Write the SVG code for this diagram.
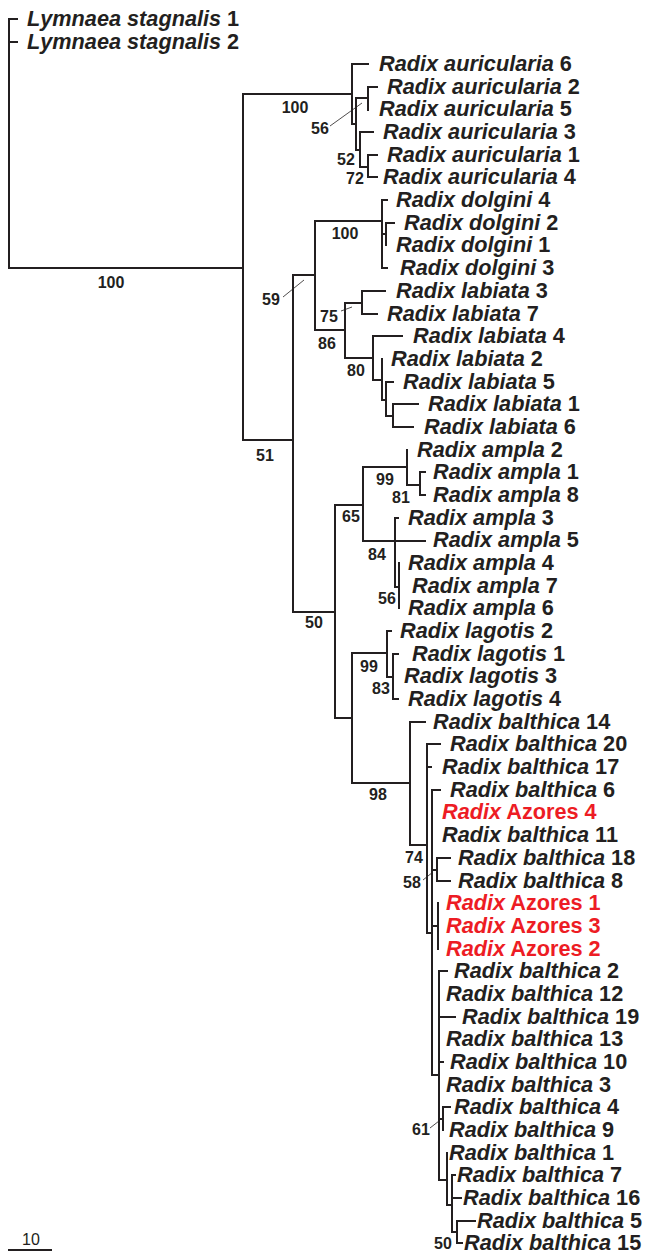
<svg xmlns="http://www.w3.org/2000/svg" width="646" height="1254" viewBox="0 0 646 1254">
<style>
.e{fill:none;stroke:#231f20;stroke-width:2;stroke-linecap:square}
.ld{fill:none;stroke:#231f20;stroke-width:0.8}
.t{font-family:"Liberation Sans",Arial,sans-serif;font-weight:bold;font-size:21.7px;fill:#231f20}
.r{fill:#ed1c24}
.i{font-style:italic}
.s{font-family:"Liberation Sans",Arial,sans-serif;font-weight:bold;font-size:16px;fill:#231f20;text-anchor:middle}
</style>
<rect width="646" height="1254" fill="#ffffff"/>
<g id="connectors">
<path class="e" d="M9 19V268M9 19H17M9 42H17M9 268H243M243 94V440M243 94H352M243 440H293"/>
<path class="e" d="M352 64V124M352 64H368M352 124H356M356 98V150M356 98H368M368 87V110M368 87H377M356 150H360M360 132V167M360 132H373M360 167H368M368 155V177M368 155H377M368 177H377"/>
<path class="e" d="M293 275V612M293 275H315M315 221V330M315 221H382M382 200V268M382 200H387M382 268H387M382 234H386M386 223V245M386 223H394"/>
<path class="e" d="M315 330H345M345 303V358M345 303H362M362 291V314M362 291H385M362 314H377M345 358H373M373 336V380M373 336H402M373 380H382M382 359V400M382 400H386M386 382V416M386 382H393M386 416H393M393 404V427M393 404H418M393 427H413"/>
<path class="e" d="M293 612H335M335 505V718M335 505H363M363 467V541M363 467H407M407 450V485M407 485H420M420 472V495M420 472H425M420 495H425M363 541H395M395 518V587M395 518H398M395 541H425M395 587H399M399 563V608"/>
<path class="e" d="M335 718H352M352 653V783M352 653H387M387 631V677M387 631H391M387 677H393M393 654V699M393 654H398M393 699H398"/>
<path class="e" d="M352 783H410M410 722V845M410 722H425M410 845H427M427 744V933M427 744H440M427 767H431M427 933H432M432 790V1075M432 790H440M432 870H437M437 858V881M437 858H450M437 881H450M432 926H438M438 903V949"/>
<path class="e" d="M432 1075H439M439 971V1180M439 971H447M439 1017H455M439 1062H443M439 1119H443M443 1107V1130M443 1107H450M439 1180H447M447 1153V1205M447 1205H452M452 1175V1232M452 1175H455M452 1198H461M452 1232H457M457 1221V1243M457 1221H475M457 1243H462"/>
<path class="ld" d="M330 126L362 103M283 297L304 280M341 311L352 307M423 880L433 872M430 1128L439 1121"/>
</g>
<g id="leaves">
<g id="n-ls1"><text class="t" x="27" y="26"><tspan class="i">Lymnaea stagnalis</tspan> 1</text></g>
<g id="n-ls2"><text class="t" x="27" y="49"><tspan class="i">Lymnaea stagnalis</tspan> 2</text></g>
<g id="n-au6"><text class="t" x="379" y="71"><tspan class="i">Radix auricularia</tspan> 6</text></g>
<g id="n-au2"><text class="t" x="387" y="94"><tspan class="i">Radix auricularia</tspan> 2</text></g>
<g id="n-au5"><text class="t" x="379" y="116"><tspan class="i">Radix auricularia</tspan> 5</text></g>
<g id="n-au3"><text class="t" x="383" y="139"><tspan class="i">Radix auricularia</tspan> 3</text></g>
<g id="n-au1"><text class="t" x="387" y="162"><tspan class="i">Radix auricularia</tspan> 1</text></g>
<g id="n-au4"><text class="t" x="383" y="184"><tspan class="i">Radix auricularia</tspan> 4</text></g>
<g id="n-do4"><text class="t" x="396" y="207"><tspan class="i">Radix dolgini</tspan> 4</text></g>
<g id="n-do2"><text class="t" x="404" y="230"><tspan class="i">Radix dolgini</tspan> 2</text></g>
<g id="n-do1"><text class="t" x="396" y="252"><tspan class="i">Radix dolgini</tspan> 1</text></g>
<g id="n-do3"><text class="t" x="400" y="275"><tspan class="i">Radix dolgini</tspan> 3</text></g>
<g id="n-la3"><text class="t" x="396" y="298"><tspan class="i">Radix labiata</tspan> 3</text></g>
<g id="n-la7"><text class="t" x="387" y="321"><tspan class="i">Radix labiata</tspan> 7</text></g>
<g id="n-la4"><text class="t" x="413" y="343"><tspan class="i">Radix labiata</tspan> 4</text></g>
<g id="n-la2"><text class="t" x="391" y="366"><tspan class="i">Radix labiata</tspan> 2</text></g>
<g id="n-la5"><text class="t" x="403" y="389"><tspan class="i">Radix labiata</tspan> 5</text></g>
<g id="n-la1"><text class="t" x="428" y="411"><tspan class="i">Radix labiata</tspan> 1</text></g>
<g id="n-la6"><text class="t" x="424" y="434"><tspan class="i">Radix labiata</tspan> 6</text></g>
<g id="n-am2"><text class="t" x="417" y="457"><tspan class="i">Radix ampla</tspan> 2</text></g>
<g id="n-am1"><text class="t" x="433" y="479"><tspan class="i">Radix ampla</tspan> 1</text></g>
<g id="n-am8"><text class="t" x="433" y="502"><tspan class="i">Radix ampla</tspan> 8</text></g>
<g id="n-am3"><text class="t" x="408" y="525"><tspan class="i">Radix ampla</tspan> 3</text></g>
<g id="n-am5"><text class="t" x="433" y="547"><tspan class="i">Radix ampla</tspan> 5</text></g>
<g id="n-am4"><text class="t" x="408" y="570"><tspan class="i">Radix ampla</tspan> 4</text></g>
<g id="n-am7"><text class="t" x="412" y="593"><tspan class="i">Radix ampla</tspan> 7</text></g>
<g id="n-am6"><text class="t" x="408" y="615"><tspan class="i">Radix ampla</tspan> 6</text></g>
<g id="n-lg2"><text class="t" x="400" y="638"><tspan class="i">Radix lagotis</tspan> 2</text></g>
<g id="n-lg1"><text class="t" x="412" y="661"><tspan class="i">Radix lagotis</tspan> 1</text></g>
<g id="n-lg3"><text class="t" x="404" y="683"><tspan class="i">Radix lagotis</tspan> 3</text></g>
<g id="n-lg4"><text class="t" x="408" y="706"><tspan class="i">Radix lagotis</tspan> 4</text></g>
<g id="n-b14"><text class="t" x="433" y="729"><tspan class="i">Radix balthica</tspan> 14</text></g>
<g id="n-b20"><text class="t" x="450" y="751"><tspan class="i">Radix balthica</tspan> 20</text></g>
<g id="n-b17"><text class="t" x="442" y="774"><tspan class="i">Radix balthica</tspan> 17</text></g>
<g id="n-b6"><text class="t" x="450" y="797"><tspan class="i">Radix balthica</tspan> 6</text></g>
<g id="n-az4"><text class="t r" x="442" y="819"><tspan class="i">Radix</tspan> Azores 4</text></g>
<g id="n-b11"><text class="t" x="442" y="842"><tspan class="i">Radix balthica</tspan> 11</text></g>
<g id="n-b18"><text class="t" x="458" y="865"><tspan class="i">Radix balthica</tspan> 18</text></g>
<g id="n-b8"><text class="t" x="458" y="888"><tspan class="i">Radix balthica</tspan> 8</text></g>
<g id="n-az1"><text class="t r" x="446" y="910"><tspan class="i">Radix</tspan> Azores 1</text></g>
<g id="n-az3"><text class="t r" x="446" y="933"><tspan class="i">Radix</tspan> Azores 3</text></g>
<g id="n-az2"><text class="t r" x="446" y="956"><tspan class="i">Radix</tspan> Azores 2</text></g>
<g id="n-b2"><text class="t" x="454" y="978"><tspan class="i">Radix balthica</tspan> 2</text></g>
<g id="n-b12"><text class="t" x="446" y="1001"><tspan class="i">Radix balthica</tspan> 12</text></g>
<g id="n-b19"><text class="t" x="462" y="1024"><tspan class="i">Radix balthica</tspan> 19</text></g>
<g id="n-b13"><text class="t" x="446" y="1046"><tspan class="i">Radix balthica</tspan> 13</text></g>
<g id="n-b10"><text class="t" x="450" y="1069"><tspan class="i">Radix balthica</tspan> 10</text></g>
<g id="n-b3"><text class="t" x="446" y="1092"><tspan class="i">Radix balthica</tspan> 3</text></g>
<g id="n-b4"><text class="t" x="454" y="1114"><tspan class="i">Radix balthica</tspan> 4</text></g>
<g id="n-b9"><text class="t" x="449" y="1137"><tspan class="i">Radix balthica</tspan> 9</text></g>
<g id="n-b1"><text class="t" x="449" y="1160"><tspan class="i">Radix balthica</tspan> 1</text></g>
<g id="n-b7"><text class="t" x="457" y="1182"><tspan class="i">Radix balthica</tspan> 7</text></g>
<g id="n-b16"><text class="t" x="463" y="1205"><tspan class="i">Radix balthica</tspan> 16</text></g>
<g id="n-b5"><text class="t" x="477" y="1228"><tspan class="i">Radix balthica</tspan> 5</text></g>
<g id="n-b15"><text class="t" x="464" y="1250"><tspan class="i">Radix balthica</tspan> 15</text></g>
</g>
<g id="support">
<text class="s" x="111" y="288">100</text>
<text class="s" x="295" y="113">100</text>
<text class="s" x="320" y="134">56</text>
<text class="s" x="346" y="165">52</text>
<text class="s" x="355" y="184">72</text>
<text class="s" x="345" y="239">100</text>
<text class="s" x="271" y="305">59</text>
<text class="s" x="329" y="322">75</text>
<text class="s" x="327" y="349">86</text>
<text class="s" x="356" y="376">80</text>
<text class="s" x="265" y="461">51</text>
<text class="s" x="385" y="485">99</text>
<text class="s" x="401" y="503">81</text>
<text class="s" x="351" y="522">65</text>
<text class="s" x="377" y="560">84</text>
<text class="s" x="387" y="604">56</text>
<text class="s" x="314" y="628">50</text>
<text class="s" x="369" y="672">99</text>
<text class="s" x="381" y="694">83</text>
<text class="s" x="378" y="800">98</text>
<text class="s" x="414" y="863">74</text>
<text class="s" x="412" y="888">58</text>
<text class="s" x="421" y="1135">61</text>
<text class="s" x="443" y="1249">50</text>
</g>
<g id="scale">
<path class="e" d="M9 1250H51"/>
<text x="31" y="1245" font-family="Liberation Sans, Arial, sans-serif" font-size="16" fill="#231f20" text-anchor="middle">10</text>
</g>
</svg>
